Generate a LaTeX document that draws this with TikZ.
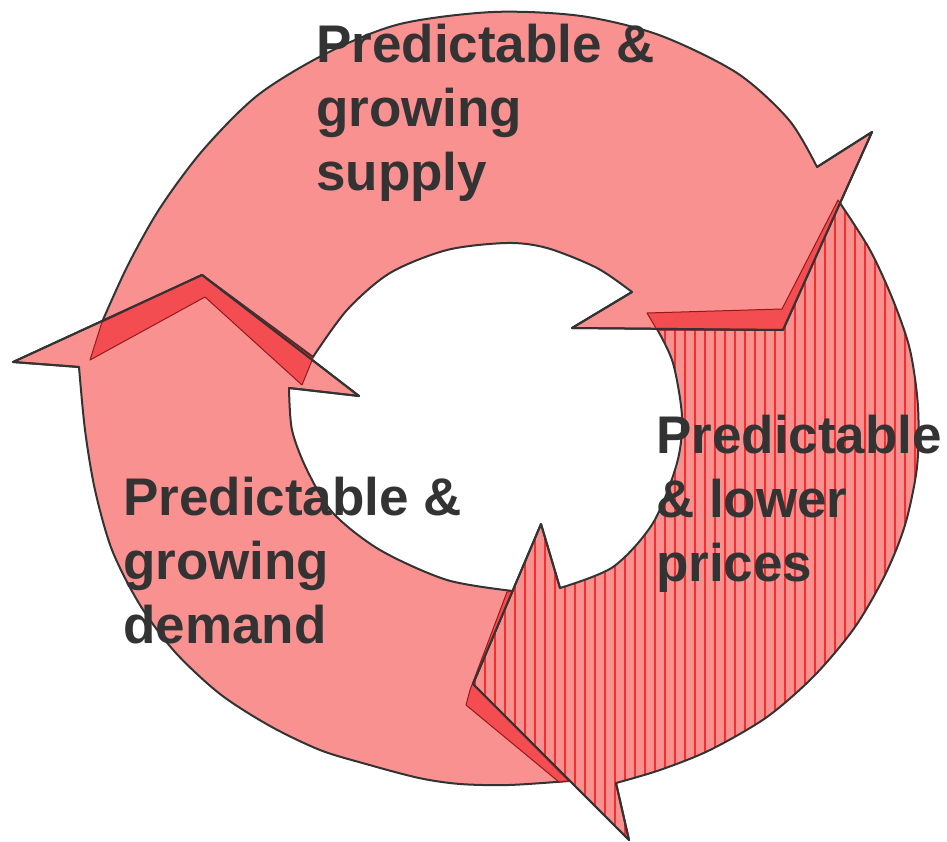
\documentclass[tikz,border=0pt]{standalone}
\usepackage{fontspec}
\setmainfont{Liberation Sans}
\usepackage{tikz}

\definecolor{ringpink}{RGB}{250,145,145}
\definecolor{ringline}{RGB}{51,51,51}
\definecolor{bandred}{RGB}{242,60,65}
\definecolor{bandline}{RGB}{150,25,25}
\definecolor{hatchred}{RGB}{250,45,45}

\begin{document}
\begin{tikzpicture}[x=1pt,y=-1pt,
    body/.style={fill=ringpink,draw=ringline,line width=2pt,line join=round},
    band/.style={fill=bandred,fill opacity=.8,draw=bandline,line width=1pt,line join=round},
    edge/.style={draw=ringline,line width=2pt,line join=round},
    lbl/.style={anchor=base west,inner sep=0pt,text=ringline,font=\bfseries\fontsize{53}{64}\selectfont}]

  \useasboundingbox (0,0) rectangle (947,842);

  % heads
  \coordinate (sup-on)  at (817,167);
  \coordinate (sup-ob)  at (872,132);
  \coordinate (sup-tip) at (783,330);
  \coordinate (sup-ib)  at (572,328);
  \coordinate (sup-in)  at (632,292);

  \coordinate (dem-on)  at (79,367);
  \coordinate (dem-ob)  at (13,362);
  \coordinate (dem-tip) at (202,275);
  \coordinate (dem-ib)  at (359,396);
  \coordinate (dem-in)  at (289,388);

  \coordinate (pri-on)  at (616,783);
  \coordinate (pri-ob)  at (629,840);
  \coordinate (pri-tip) at (473,684);
  \coordinate (pri-ib)  at (541,524);
  \coordinate (pri-in)  at (560,588);

  % supply (top)
  \draw[body] plot[smooth] coordinates {(102,322) (128,265) (160,208) (203,150) (258,95) (327,53) (400,24) (493,12) (581,16) (659,35) (737,73) (789,120) (817,167)}
    -- (sup-ob) -- (sup-tip) -- (sup-ib) -- (sup-in)
    -- plot[smooth] coordinates {(632,292) (597,268) (547,248) (507,243) (447,250) (390,273) (347,310) (313,357)}
    -- (dem-tip) -- cycle;

  % demand (left)
  \draw[body] plot[smooth] coordinates {(569,781) (509,785) (460,784) (419,778) (366,764) (320,750) (270,726) (220,694) (175,652) (140,605) (112,550) (95,490) (85,430) (79,367)}
    -- (dem-ob) -- (dem-tip) -- (dem-ib) -- (dem-in)
    -- plot[smooth] coordinates {(289,388) (292,430) (307,470) (333,513) (380,550) (447,580) (513,591)}
    -- (pri-tip) -- cycle;

  % prices (right)
  \draw[body,path picture={\foreach \x in {475,485,...,925} \draw[hatchred,line width=1.1pt] (\x,100) -- (\x,850);}]
    plot[smooth] coordinates {(840,203) (870,250) (893,300) (910,350) (918,407) (917,467) (905,525) (885,575) (855,627) (815,675) (767,717) (710,750) (660,770) (616,783)}
    -- (pri-ob) -- (pri-tip) -- (pri-ib) -- (pri-in)
    -- plot[smooth] coordinates {(560,588) (613,567) (653,523) (677,463) (682,417) (673,363) (657,329)}
    -- (sup-tip) -- cycle;

  % sides
  \draw[band] (838,200) -- (782,309) -- (647,313) -- (657,330) -- (sup-tip) -- (840,203) -- cycle;
  \draw[band] (102,322) -- (dem-tip) -- (313,358) -- (302,385) -- (205,297) -- (90,360) -- cycle;
  \draw[band] (507,592) -- (470,690) -- (466,705) -- (559,782) -- (569,781) -- (pri-tip) -- (513,591) -- cycle;

  \draw[edge] (sup-on) -- (sup-ob) -- (sup-tip) -- (sup-ib) -- (sup-in);
  \draw[edge] (dem-on) -- (dem-ob) -- (dem-tip) -- (dem-ib) -- (dem-in);
  \draw[edge] (pri-on) -- (pri-ob) -- (pri-tip) -- (pri-ib) -- (pri-in);

  % labels
  \node[lbl] (supply) at (316,63) {\begin{tabular}[t]{@{}l@{}}Predictable \&\\growing\\supply\end{tabular}};
  \node[lbl] (prices) at (656,453) {\begin{tabular}[t]{@{}l@{}}Predictable\\\& lower\\prices\end{tabular}};
  \node[lbl] (demand) at (123,515) {\begin{tabular}[t]{@{}l@{}}Predictable \&\\growing\\demand\end{tabular}};
\end{tikzpicture}
\end{document}
